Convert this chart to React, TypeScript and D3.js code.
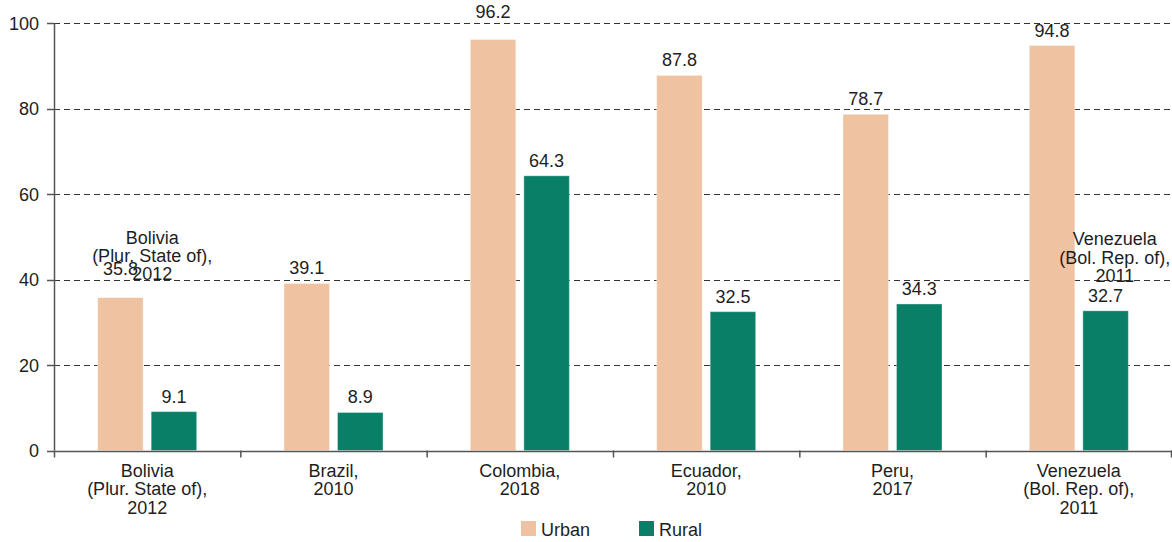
import React from "react";
import * as d3 from "d3";

const categories = [
  ["Bolivia", "(Plur. State of),", "2012"],
  ["Brazil,", "2010"],
  ["Colombia,", "2018"],
  ["Ecuador,", "2010"],
  ["Peru,", "2017"],
  ["Venezuela", "(Bol. Rep. of),", "2011"],
];
const categoryKeys = ["Bolivia", "Brazil", "Colombia", "Ecuador", "Peru", "Venezuela"];
const seriesNames = ["Urban", "Rural"];
const urbanValues = [35.8, 39.1, 96.2, 87.8, 78.7, 94.8];
const ruralValues = [9.1, 8.9, 64.3, 32.5, 34.3, 32.7];
const yTicks = [0, 20, 40, 60, 80, 100];
// stray in-plot copies of two category labels, as in the reference
const strayLabels = [
  { key: "Bolivia", lines: ["Bolivia", "(Plur. State of),", "2012"], value: 48.4, dx: 5 },
  { key: "Venezuela", lines: ["Venezuela", "(Bol. Rep. of),", "2011"], value: 48.0, dx: 36 },
];
// value labels that the reference pushed further up
const extraLift: Record<string, number> = { "Bolivia-Urban": 14, "Colombia-Urban": 13 };

const W = 1172;
const H = 542;
const colors: Record<string, string> = { Urban: "#efc3a1", Rural: "#0a7f68" };
const FONT = "'Liberation Sans', Arial, Helvetica, sans-serif";
const TEXT = "#1e1e1e";

export default function App() {
  const left = 54;
  const right = 1172;
  const x0 = d3.scaleBand<string>().domain(categoryKeys).range([left, right]).padding(0);
  const y = d3.scaleLinear().domain([0, 100]).range([450.5, 23.3]);
  const groupW = 99;
  const x1 = d3
    .scaleBand<string>()
    .domain(seriesNames)
    .range([0, groupW])
    .paddingInner(0.15)
    .paddingOuter(0);

  const data = categoryKeys.map((k, i) => ({
    key: k,
    values: [
      { s: "Urban", v: urbanValues[i] },
      { s: "Rural", v: ruralValues[i] },
    ],
  }));

  const lineH = 18.3;

  return (
    <svg
      width={W}
      height={H}
      style={{ position: "absolute", left: 0, top: 0, background: "#fff" }}
      fontFamily={FONT}
    >
      {/* gridlines */}
      {yTicks
        .filter((t) => t > 0)
        .map((t) => (
          <line
            key={"g" + t}
            x1={left}
            x2={right}
            y1={Math.round(y(t)) + 0.5}
            y2={Math.round(y(t)) + 0.5}
            stroke="#333"
            strokeWidth={1}
            strokeDasharray="6,4"
          />
        ))}
      {/* bars */}
      {data.map((d) => {
        const gx = (x0(d.key) as number) + (x0.bandwidth() - groupW) / 2;
        return (
          <g key={d.key} transform={`translate(${gx},0)`}>
            {d.values.map((b) => (
              <rect
                key={b.s}
                x={x1(b.s) as number}
                y={y(b.v)}
                width={x1.bandwidth()}
                height={y(0) - y(b.v)}
                fill={colors[b.s]}
                stroke="rgba(255,255,255,0.35)"
                strokeWidth={1}
              />
            ))}
            {d.values.map((b) => (
              <text
                key={"l" + b.s}
                x={(x1(b.s) as number) + x1.bandwidth() / 2}
                y={y(b.v) - 9 - (extraLift[d.key + "-" + b.s] || 0)}
                textAnchor="middle"
                fontSize={18}
                fill={TEXT}
              >
                {b.v.toFixed(1)}
              </text>
            ))}
          </g>
        );
      })}
      {/* stray labels */}
      {strayLabels.map((s) => {
        const cx = (x0(s.key) as number) + x0.bandwidth() / 2 + s.dx;
        return (
          <text key={"s" + s.key} textAnchor="middle" fontSize={18} fill={TEXT}>
            {s.lines.map((ln, i) => (
              <tspan key={i} x={cx} y={y(s.value) + i * lineH}>
                {ln}
              </tspan>
            ))}
          </text>
        );
      })}
      {/* y axis */}
      <line x1={left + 0.5} x2={left + 0.5} y1={y(100)} y2={y(0)} stroke="#555" strokeWidth={1.5} />
      {yTicks.map((t) => (
        <g key={"yt" + t}>
          <line x1={left - 7} x2={left} y1={Math.round(y(t)) + 0.5} y2={Math.round(y(t)) + 0.5} stroke="#555" strokeWidth={1.5} />
          <text x={39} y={y(t)} dy="0.36em" textAnchor="end" fontSize={18} fill={TEXT}>
            {t}
          </text>
        </g>
      ))}
      {/* x axis */}
      <line x1={left} x2={right} y1={Math.round(y(0)) + 0.5} y2={Math.round(y(0)) + 0.5} stroke="#555" strokeWidth={1.5} />
      {[...categoryKeys.map((k) => x0(k) as number), right].map((tx, i) => (
        <line
          key={"xt" + i}
          x1={Math.min(tx, right - 1) + 0.5}
          x2={Math.min(tx, right - 1) + 0.5}
          y1={y(0)}
          y2={y(0) + 7}
          stroke="#555"
          strokeWidth={1.5}
        />
      ))}
      {categories.map((lines, i) => {
        const cx = (x0(categoryKeys[i]) as number) + x0.bandwidth() / 2;
        return (
          <text key={"xl" + i} textAnchor="middle" fontSize={18} fill={TEXT}>
            {lines.map((ln, j) => (
              <tspan key={j} x={cx} y={477 + j * lineH}>
                {ln}
              </tspan>
            ))}
          </text>
        );
      })}
      {/* legend */}
      {seriesNames.map((s, i) => {
        const lx = 521 + i * 118;
        return (
          <g key={"lg" + s}>
            <rect x={lx} y={521} width={15} height={15} fill={colors[s]} />
            <text x={lx + 20} y={535.5} fontSize={18} fill={TEXT}>
              {s}
            </text>
          </g>
        );
      })}
    </svg>
  );
}
